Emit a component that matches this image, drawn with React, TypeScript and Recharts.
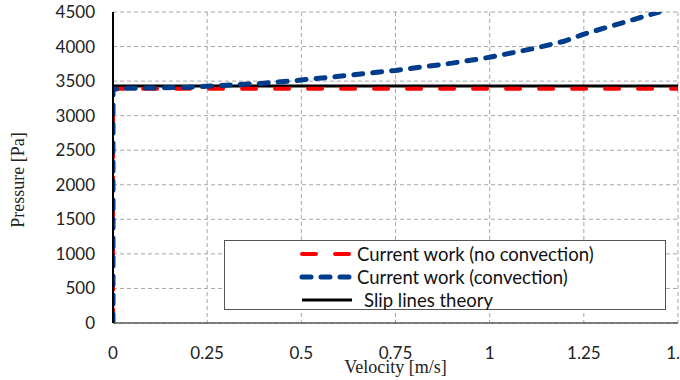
import { LineChart, Line, XAxis, YAxis, CartesianGrid } from "recharts"

const velocityTicks = [0, 0.25, 0.5, 0.75, 1, 1.25, 1.5]
const pressureTicks = [0, 500, 1000, 1500, 2000, 2500, 3000, 3500, 4000, 4500]

// current work, no convection
const noConvVelocity = [0, 0, 0.02, 0.5, 1, 1.5]
const noConvPressure = [0, 3385, 3390, 3390, 3390, 3390]

// current work, convection
const convVelocity = [0, 0, 0.02, 0.1, 0.2, 0.25, 0.3, 0.4, 0.5, 0.6, 0.75, 0.9, 1, 1.12, 1.2, 1.25, 1.35, 1.45]
const convPressure = [0, 3380, 3395, 3400, 3410, 3425, 3440, 3470, 3515, 3570, 3655, 3760, 3845, 3975, 4080, 4180, 4340, 4500]

// slip lines theory
const slipVelocity = [0, 1.5]
const slipPressure = [3430, 3430]

const zip = (xs: number[], ys: number[]) => xs.map((v, i) => ({ v, p: ys[i] }))

const noConvData = zip(noConvVelocity, noConvPressure)
const convData = zip(convVelocity, convPressure)
const slipData = zip(slipVelocity, slipPressure)

const tickFont = { fontFamily: "Lato", fontSize: 17, fill: "#222" }
const titleFont = "'Liberation Serif', 'Times New Roman', serif"

const legendItems = [
  { name: "Current work (no convection)", color: "#ff0000", dash: "14 19", width: 4, cap: "round" as const },
  { name: "Current work (convection)", color: "#003c8c", dash: "9 10", width: 5, cap: "round" as const },
  { name: "Slip lines theory", color: "#000000", dash: undefined, width: 3, cap: "butt" as const },
]

function PressureTitle() {
  return (
    <text
      x={18}
      y={180}
      transform="rotate(-90 18 180)"
      textAnchor="middle"
      dominantBaseline="central"
      style={{ fontFamily: titleFont, fontSize: 18, fill: "#222" }}
    >
      Pressure [Pa]
    </text>
  )
}

// plain centred tick, so the last label gets clipped at the edge like the original
function VelocityTick(props: any) {
  const { x, y, payload } = props
  return (
    <text x={x} y={y + 28} textAnchor="middle" style={tickFont}>
      {payload.value}
    </text>
  )
}

export default function App() {
  return (
    <div style={{ position: "absolute", left: 0, top: 0, width: 680, height: 380, background: "#fff" }}>
      <LineChart width={680} height={380} margin={{ top: 12, right: 2, left: 0, bottom: 0 }}>
        <CartesianGrid stroke="#a6a6a6" strokeDasharray="4 3" />
        <XAxis
          type="number"
          dataKey="v"
          domain={[0, 1.5]}
          ticks={velocityTicks}
          interval={0}
          allowDataOverflow
          height={57}
          tickLine={false}
          stroke="#595959"
          strokeWidth={1.5}
          tick={<VelocityTick />}
          label={{
            value: "Velocity [m/s]",
            position: "insideBottom",
            offset: 7,
            style: { fontFamily: titleFont, fontSize: 18, fill: "#222" },
          }}
        />
        <YAxis
          type="number"
          dataKey="p"
          domain={[0, 4500]}
          ticks={pressureTicks}
          allowDataOverflow
          width={113}
          tickLine={false}
          tickMargin={12}
          stroke="#000"
          strokeWidth={2}
          tick={tickFont}
          label={{ content: () => <PressureTitle /> }}
        />
        <Line
          data={slipData}
          dataKey="p"
          type="linear"
          stroke="#000"
          strokeWidth={3}
          dot={false}
          isAnimationActive={false}
        />
        <Line
          data={noConvData}
          dataKey="p"
          type="linear"
          stroke="#ff0000"
          strokeWidth={4}
          strokeDasharray="14 19"
          strokeLinecap="round"
          dot={false}
          isAnimationActive={false}
        />
        <Line
          data={convData}
          dataKey="p"
          type="linear"
          stroke="#003c8c"
          strokeWidth={5}
          strokeDasharray="9 10"
          strokeLinecap="round"
          strokeLinejoin="round"
          dot={false}
          isAnimationActive={false}
        />
      </LineChart>
      <div
        style={{
          position: "absolute",
          left: 224,
          top: 240,
          width: 440,
          height: 68,
          border: "1px solid #555",
          background: "#fff",
          boxSizing: "content-box",
        }}
      >
        {legendItems.map((item, i) => (
          <div
            key={item.name}
            style={{
              position: "absolute",
              left: 74,
              top: 1 + i * 23,
              height: 23,
              display: "flex",
              alignItems: "center",
              whiteSpace: "nowrap",
            }}
          >
            <svg width={58} height={10} style={{ display: "block" }}>
              <line
                x1={3}
                y1={5}
                x2={53}
                y2={5}
                stroke={item.color}
                strokeWidth={item.width}
                strokeDasharray={item.dash}
                strokeLinecap={item.cap}
              />
            </svg>
            <span
              style={{
                fontFamily: "Lato",
                fontSize: 18.5,
                color: "#111",
                marginLeft: i === 2 ? 7 : 0,
              }}
            >
              {item.name}
            </span>
          </div>
        ))}
      </div>
    </div>
  )
}
